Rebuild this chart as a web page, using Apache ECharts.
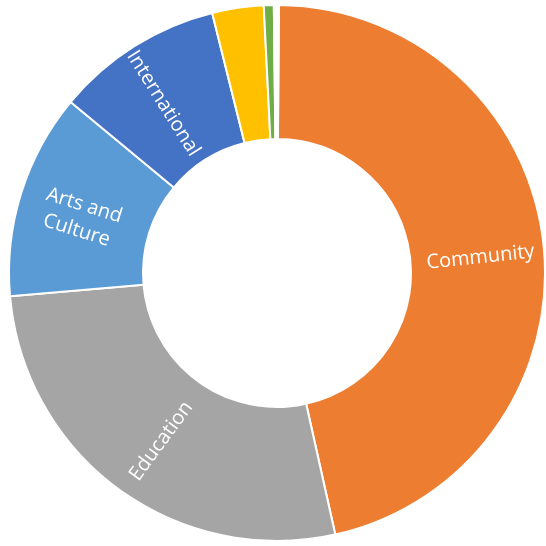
<!DOCTYPE html>
<html><head><meta charset="utf-8">
<script src="https://cdn.jsdelivr.net/npm/echarts@6/dist/echarts.min.js"></script>
<style>html,body{margin:0;padding:0;background:#fff}#c{width:546px;height:546px}</style>
</head><body><div id="c"></div>
<script>
const categories = ["Community", "Education", "Arts and\nCulture", "International", "Other A", "Other B", "Other C"];
const values = [46.4, 27.1, 12.4, 10.1, 3.1, 0.6, 0.3];
const showLabel = [true, true, true, true, false, false, false];
const colors = ["#ED7D31", "#A5A5A5", "#5B9BD5", "#4472C4", "#FFC000", "#70AD47", "#FFFFFF"];

const chart = echarts.init(document.getElementById('c'), null, {renderer: 'canvas'});
chart.setOption({
  animation: false,
  series: [{
    type: 'pie',
    center: [277, 273],
    radius: [134, 268],
    startAngle: 89.6,
    clockwise: true,
    avoidLabelOverlap: false,
    itemStyle: {borderColor: '#fff', borderWidth: 2},
    label: {
      show: true, position: 'inside', rotate: 'radial',
      color: '#fff', fontFamily: 'Open Sans', fontSize: 20, lineHeight: 26
    },
    labelLayout: {dy: 6},
    labelLine: {show: false},
    emphasis: {disabled: true},
    data: categories.map((n, i) => ({
      name: n, value: values[i],
      itemStyle: {color: colors[i]},
      label: {show: showLabel[i]}
    }))
  }]
});
</script></body></html>
